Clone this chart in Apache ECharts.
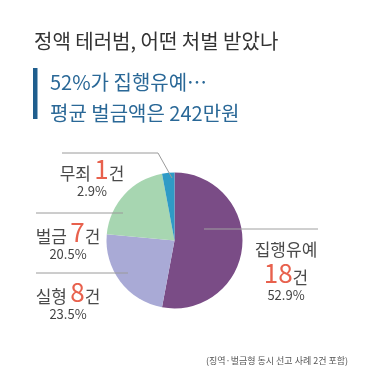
<!DOCTYPE html>
<html><head><meta charset="utf-8">
<script src="https://cdn.jsdelivr.net/npm/echarts@6/dist/echarts.min.js"></script>
<style>html,body{margin:0;padding:0;background:#fff}#c{width:388px;height:388px}</style>
</head><body><div id="c"></div>
<script>
const categories = ['집행유예', '실형', '벌금', '무죄'];
const counts = [18, 8, 7, 1];
const percents = ['52.9%', '23.5%', '20.5%', '2.9%'];
const colors = ['#7a4c86', '#a9aad6', '#a7d6b1', '#2f9bc6'];
const titleText = '정액 테러범, 어떤 처벌 받았나';
const subText = '52%가 집행유예…\n평균 벌금액은 242만원';
const noteText = '(징역·벌금형 동시 선고 사례 2건 포함)';

const FONT = '"Noto Sans CJK KR", "Noto Sans", sans-serif';
const chart = echarts.init(document.getElementById('c'), null, {renderer: 'canvas'});

// label anchor positions (top-center of each label block)
const labelPos = [
  {x: 286, y: 232},
  {x: 68, y: 277},
  {x: 68, y: 217},
  {x: 92, y: 154}
];

chart.setOption({
  backgroundColor: '#fff',
  animation: false,
  title: [
    {text: titleText, left: 29, top: 26,
      textStyle: {fontFamily: FONT, fontSize: 20, fontWeight: 'normal', color: '#333'}},
    {text: subText, left: 45, top: 62,
      textStyle: {fontFamily: FONT, fontSize: 20, fontWeight: 'normal', color: '#2a6897', lineHeight: 31}},
    {text: noteText, left: 201, top: 351,
      textStyle: {fontFamily: FONT, fontSize: 9, fontWeight: 'normal', color: '#555'}}
  ],
  graphic: [
    {type: 'rect', shape: {x: 33, y: 68, width: 4.5, height: 51}, style: {fill: '#1f5e8e'}},
    {type: 'polyline', z: 100, shape: {points: [[62, 153], [158, 153], [172, 178]]}, style: {stroke: '#9a9a9a', lineWidth: 1, fill: null}},
    {type: 'line', z: 100, shape: {x1: 36, y1: 213, x2: 123, y2: 213}, style: {stroke: '#9a9a9a', lineWidth: 1}},
    {type: 'line', z: 100, shape: {x1: 36, y1: 273, x2: 128, y2: 273}, style: {stroke: '#9a9a9a', lineWidth: 1}},
    {type: 'line', z: 100, shape: {x1: 204, y1: 229, x2: 318, y2: 229}, style: {stroke: '#a0a0a0', lineWidth: 1}}
  ],
  series: [{
    type: 'pie',
    center: [174.5, 240.5],
    radius: [0, 68],
    startAngle: 90,
    clockwise: true,
    silent: true,
    data: categories.map((c, i) => ({name: c, value: counts[i], itemStyle: {color: colors[i]}})),
    label: {
      show: true,
      position: 'outside',
      align: 'center',
      overflow: 'none',
      width: null,
      formatter: p => {
        const i = p.dataIndex;
        if (i === 0) return `{name|${categories[i]}}\n{num|${counts[i]}}{unit|건}\n{pct|${percents[i]}}`;
        return `{name|${categories[i]}} {num|${counts[i]}}{unit|건}\n{pct|${percents[i]}}`;
      },
      rich: {
        name: {fontFamily: FONT, fontSize: 17, color: '#4a4a4a', lineHeight: 26, verticalAlign: 'bottom'},
        num: {fontFamily: FONT, fontSize: 26, color: '#e8614d', lineHeight: 28, verticalAlign: 'bottom'},
        unit: {fontFamily: FONT, fontSize: 17, color: '#4a4a4a', lineHeight: 26, verticalAlign: 'bottom'},
        pct: {fontFamily: FONT, fontSize: 13, color: '#444', lineHeight: 18}
      }
    },
    labelLine: {show: false},
    labelLayout: params => ({
      x: labelPos[params.dataIndex].x,
      y: labelPos[params.dataIndex].y,
      align: 'center',
      verticalAlign: 'top',
      hideOverlap: false,
      moveOverlap: null
    })
  }]
});
</script></body></html>
